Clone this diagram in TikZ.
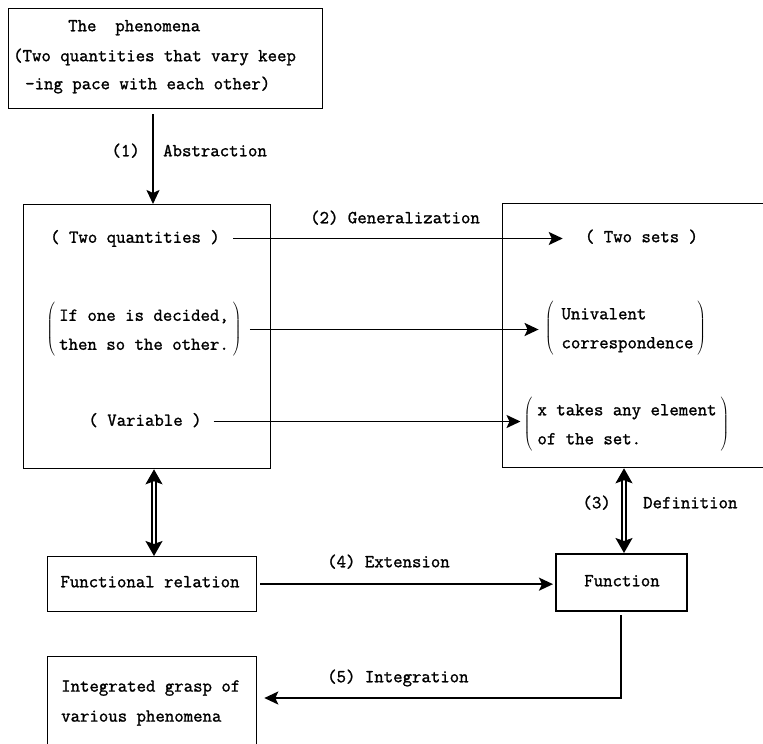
\documentclass[tikz,border=0pt]{standalone}
\usepackage{fontspec}
\newfontfamily\typefont{Latin Modern Mono}[FakeBold=1.3]
\usetikzlibrary{arrows.meta}
\begin{document}
\begin{tikzpicture}[x=1pt,y=-1pt,
  frame/.style={draw, line width=1.3pt, anchor=north west, inner sep=0pt},
  txt/.style={font=\typefont\fontsize{18.3}{29}\selectfont, inner sep=0pt,
              text height=12pt, text depth=3.5pt},
  brk/.style={font=\typefont\fontsize{18.3}{29}\selectfont, inner sep=0pt},
  conn/.style={line width=1.9pt, -{Stealth[length=14pt,width=13pt,inset=3pt]}},
  dbl/.style={double, double distance=2.6pt, line width=1.3pt,
              {Stealth[length=15pt,width=17pt,inset=3pt]}-{Stealth[length=15pt,width=17pt,inset=3pt]}}
]
\fill[white] (0,0) rectangle (763,744);
\useasboundingbox (0,0) rectangle (763,744);

% boxes
\node[frame, minimum width=314pt, minimum height=100pt] (top) at (8,8) {};
\node[frame, minimum width=247pt, minimum height=264pt] (lbox) at (23,204) {};
\node[frame, minimum width=290pt, minimum height=264pt] (rbox) at (502,203) {};
\node[frame, minimum width=209pt, minimum height=55pt] (fr) at (47,556) {};
\node[frame, line width=2.4pt, minimum width=131pt, minimum height=57pt] (fn) at (555,553) {};
\node[frame, minimum width=209pt, minimum height=110pt] (ig) at (47,656) {};

% top box text
\node[txt, anchor=west] (p1) at (68,27) {The\ \ phenomena};
\node[txt, anchor=west] (p2) at (13,57) {(Two quantities that vary keep};
\node[txt, anchor=west] (p3) at (25,85) {-ing pace with each other)};

% left column
\node[txt] (t1) at (135,238.5) {( Two quantities )};
\node[brk] (t2) at (144,329.5) {$\left(\begin{tabular}{@{\hspace{4pt}}l@{\hspace{4pt}}}If one is decided,\\then so the other.\end{tabular}\right)$};
\node[txt] (t3) at (145,421.5) {( Variable )};

% right column
\node[txt] (s1) at (641.5,238) {( Two sets )};
\node[brk] (s2) at (625.5,328) {$\left(\begin{tabular}{@{\hspace{8pt}}l@{\hspace{4pt}}}Univalent\\correspondence\end{tabular}\right)$};
\node[brk] (s3) at (626.5,424) {$\left(\begin{tabular}{@{\hspace{5pt}}l@{\hspace{4pt}}}x takes any element\\of the set.\end{tabular}\right)$};

% lower boxes text
\node[txt] (frt) at (150,583) {Functional relation};
\node[txt] (fnt) at (622,582) {Function};
\node[font=\typefont\fontsize{18.3}{30}\selectfont, inner sep=0pt, align=left, anchor=west] (igt) at (61,703) {Integrated grasp of\\various phenomena};

% labels
\node[txt, anchor=east] (l1n) at (140,152) {(1)};
\node[txt, anchor=west] (l1) at (163,152) {Abstraction};
\node[txt, anchor=west] (l2) at (310,219) {(2) Generalization};
\node[txt, anchor=east] (l3n) at (611,504) {(3)};
\node[txt, anchor=west] (l3) at (643,504) {Definition};
\node[txt, anchor=west] (l4) at (327,563) {(4) Extension};
\node[txt, anchor=west] (l5) at (327,678) {(5) Integration};

% connectors
\coordinate (a1) at (153,0);
\coordinate (d1) at (154,0);
\coordinate (d2) at (624,0);
\coordinate (c5) at (621,698);
\draw[conn] ([yshift=-5pt]top.south -| a1) -- (lbox.north -| a1);
\draw[conn] ([xshift=13pt]t1.east) -- ([xshift=-22pt]s1.west |- t1.east);
\draw[conn] ([xshift=8pt]t2.east) -- ([xshift=-6pt]s2.west |- t2.east);
\draw[conn] ([xshift=12pt]t3.east) -- ([xshift=-3pt]s3.west |- t3.east);
\draw[dbl] (lbox.south -| d1) -- (fr.north -| d1);
\draw[dbl] (rbox.south -| d2) -- (fn.north -| d2);
\draw[conn] ([xshift=3pt]fr.east) -- ([xshift=-2pt]fn.west |- fr.east);
\draw[conn] ([yshift=-3pt]fn.south -| c5) -- (c5) -- ([xshift=7pt]ig.east |- c5);
\end{tikzpicture}
\end{document}
